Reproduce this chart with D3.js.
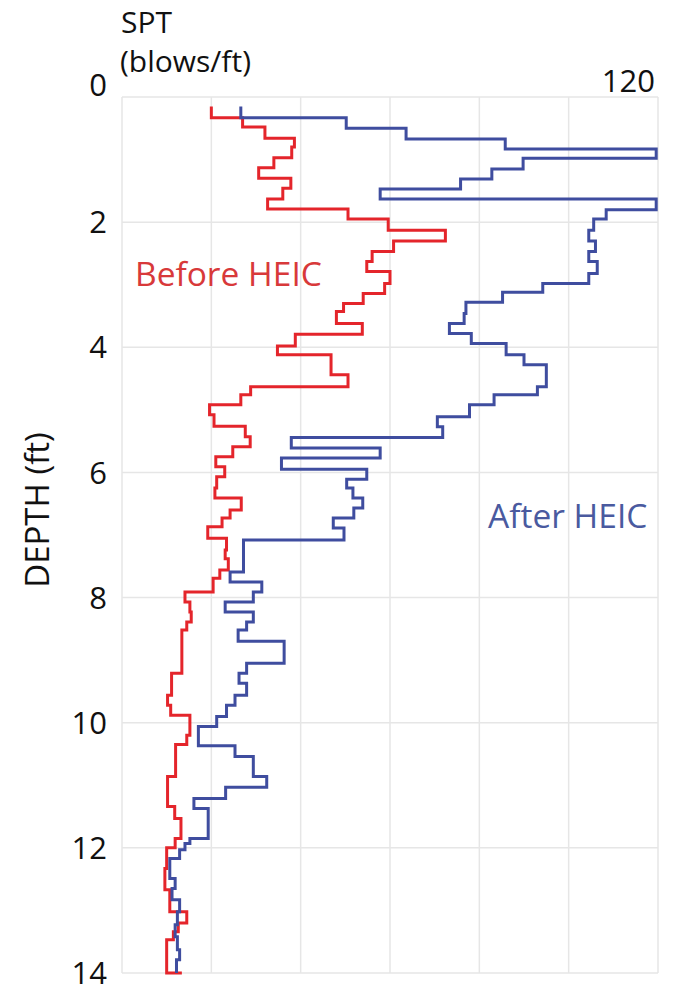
<!DOCTYPE html>
<html>
<head>
<meta charset="utf-8">
<script src="https://cdn.jsdelivr.net/npm/d3@7"></script>
<style>
  body { margin: 0; background: #fff; }
  text { font-family: "Open Sans", sans-serif; }
</style>
</head>
<body>
<div id="chart"></div>
<script>
// Set dimensions
const width = 673,
    height = 1008;

// SPT axis (top) and depth axis
const sptTicks = [0, 20, 40, 60, 80, 100, 120];
const depthTicks = [0, 2, 4, 6, 8, 10, 12, 14];
const sptLabels = [0, 120];

// Before HEIC: depth where each step starts (ft) and SPT value on that step
const redDepth = [0.15, 0.33, 0.48, 0.66, 0.80, 0.97, 1.13, 1.30, 1.46, 1.63, 1.79, 1.95,
    2.13, 2.30, 2.47, 2.63, 2.79, 2.98, 3.14, 3.30, 3.43, 3.62, 3.79, 3.98, 4.12, 4.44,
    4.63, 4.76, 4.92, 5.08, 5.26, 5.43, 5.59, 5.75, 5.91, 6.07, 6.25, 6.41, 6.60, 6.73,
    6.87, 7.05, 7.24, 7.38, 7.56, 7.69, 7.91, 8.07, 8.23, 8.39, 8.52, 9.21, 9.56, 9.72,
    9.88, 10.20, 10.35, 10.86, 11.34, 11.53, 11.85, 12.00, 12.33, 12.67, 13.02, 13.20,
    13.34, 13.47, 14.0];
const redSpt = [20, 27, 32, 38.6, 38, 34, 30.6, 37.8, 36, 32.6, 50.6, 59.6,
    72.4, 60.8, 56, 54.8, 60, 58.8, 54, 49.6, 48, 53.8, 38.8, 34.8, 46.8, 50.6,
    28.8, 26.6, 19.6, 20.6, 27.6, 28.7, 24.8, 21, 23, 21.2, 20.8, 26.7, 24.2, 22.4,
    19.2, 23.4, 23.1, 23.8, 21.9, 20.4, 14.1, 15.2, 15.5, 14.5, 13.4, 11.1, 10.2, 10.9,
    15.2, 14.5, 12, 10.2, 11.8, 13.2, 11.9, 10, 9.6, 10.7, 14.5, 12.6,
    11.5, 10, 13.4];

// After HEIC
const blueDepth = [0.15, 0.33, 0.50, 0.67, 0.83, 0.98, 1.15, 1.31, 1.47, 1.63, 1.80, 1.95,
    2.13, 2.30, 2.47, 2.63, 2.82, 2.98, 3.12, 3.28, 3.46, 3.62, 3.78, 3.94, 4.12, 4.28,
    4.63, 4.76, 4.92, 5.11, 5.27, 5.44, 5.61, 5.77, 5.95, 6.11, 6.25, 6.41, 6.57, 6.73,
    6.89, 7.08, 7.59, 7.75, 7.91, 8.07, 8.23, 8.39, 8.52, 8.70, 9.05, 9.21, 9.37, 9.56,
    9.72, 9.90, 10.06, 10.37, 10.54, 10.86, 11.03, 11.21, 11.37, 11.85, 11.93, 12.03,
    12.17, 12.49, 12.65, 12.83, 13.02, 13.23, 13.42, 13.63, 13.79, 14.0];
const blueSpt = [26.6, 50.2, 63.6, 85.8, 119.6, 89.8, 82.8, 75.8, 57.8, 119.6, 108.4, 105.6,
    104.5, 106, 104.5, 106.4, 104.5, 94.2, 85.2, 77, 76.6, 73.3, 78.2, 86, 90, 95,
    93, 83.3, 77.8, 70.6, 71.8, 37.9, 57.8, 35.7, 54.8, 50.3, 51.7, 53.9, 51.9, 47.3,
    49.7, 27.2, 24.2, 31.3, 29.4, 23.1, 29.4, 27.9, 26, 36.3, 27.9, 26.2, 27.9, 25.3,
    23.4, 21.2, 17.1, 25.3, 29.4, 32.4, 23.2, 16.1, 19.3, 15.2, 14.1, 12.9,
    10.7, 11.9, 11.2, 12.9, 12.4, 11.9, 12.4, 12.9, 12.2, 12.2];

// Append SVG
const svg = d3
    .select("#chart")
    .append("svg")
    .attr("width", width)
    .attr("height", height);

// Scales
const x = d3.scaleLinear().domain([0, 120]).range([122, 658]);
const y = d3.scaleLinear().domain([0, 14]).range([97, 973]);

// Grid
svg.selectAll(".vgrid")
    .data(sptTicks)
    .enter()
    .append("line")
    .attr("x1", (d) => x(d))
    .attr("x2", (d) => x(d))
    .attr("y1", y(0))
    .attr("y2", y(14))
    .style("stroke", "#e6e6e6")
    .style("stroke-width", 1.5);

svg.selectAll(".hgrid")
    .data(depthTicks)
    .enter()
    .append("line")
    .attr("x1", x(0))
    .attr("x2", x(120))
    .attr("y1", (d) => y(d))
    .attr("y2", (d) => y(d))
    .style("stroke", "#e6e6e6")
    .style("stroke-width", 1.5);

// Depth labels (0 sits above the top line, shared with SPT 0)
svg.selectAll(".dlabel")
    .data(depthTicks.filter((d) => d > 0))
    .enter()
    .append("text")
    .attr("x", 107)
    .attr("y", (d) => y(d))
    .attr("dy", "0.36em")
    .attr("text-anchor", "end")
    .style("font-size", "31px")
    .style("fill", "#111")
    .text((d) => d);

// SPT labels at top
svg.selectAll(".slabel")
    .data(sptLabels)
    .enter()
    .append("text")
    .attr("x", (d) => (d === 0 ? 107 : x(d) - 3))
    .attr("y", (d) => (d === 0 ? 96 : 92))
    .attr("text-anchor", "end")
    .style("font-size", "31px")
    .style("fill", "#111")
    .text((d) => d);

// Axis titles
const title = svg.append("text")
    .style("font-size", "30px")
    .style("fill", "#111");
title.append("tspan").attr("x", 121).attr("y", 33).text("SPT");
title.append("tspan").attr("x", 120).attr("y", 72).text("(blows/ft)");

svg.append("text")
    .attr("transform", "translate(49,510) rotate(-90)")
    .attr("text-anchor", "middle")
    .style("font-size", "33px")
    .style("fill", "#111")
    .text("DEPTH (ft)");

// Step profiles
const stepLine = d3
    .line()
    .x((d) => x(d[1]))
    .y((d) => y(d[0]))
    .curve(d3.curveStepBefore);

const series = [
    { depth: redDepth, spt: redSpt, color: "#e4252b" },
    { depth: blueDepth, spt: blueSpt, color: "#3f4d9f" },
];

series.forEach((s) => {
    const pts = s.depth.map((d, i) => [d, s.spt[i]]);
    svg.append("path")
        .datum(pts)
        .attr("d", stepLine)
        .style("fill", "none")
        .style("stroke", s.color)
        .style("stroke-width", 3);
});

// Series labels
svg.append("text")
    .attr("x", 135)
    .attr("y", 286)
    .style("font-size", "33.5px")
    .style("fill", "#d8393a")
    .text("Before HEIC");
svg.append("text")
    .attr("x", 488)
    .attr("y", 528)
    .style("font-size", "33.5px")
    .style("fill", "#4a5a9f")
    .text("After HEIC");
</script>
</body>
</html>
